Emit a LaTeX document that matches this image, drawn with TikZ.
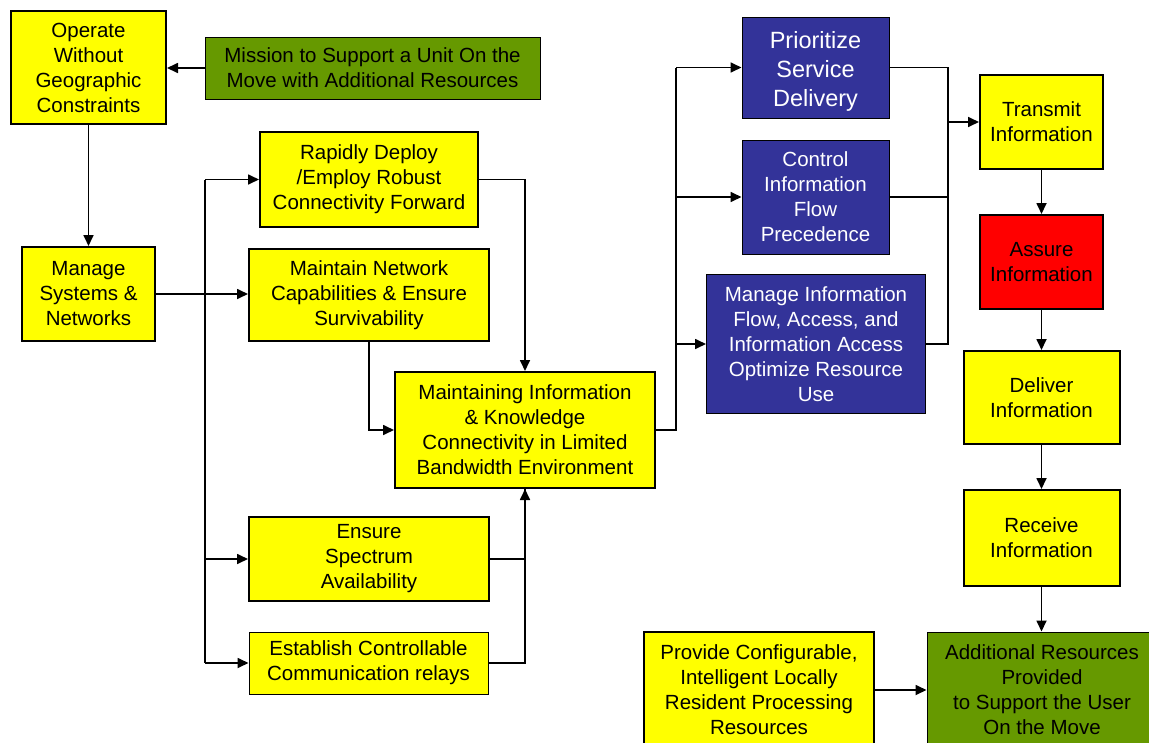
\documentclass[tikz,border=0pt]{standalone}
\usepackage{fontspec}
\setmainfont{Liberation Sans}
\usetikzlibrary{arrows.meta}
\definecolor{boxyellow}{HTML}{FFFF00}
\definecolor{boxgreen}{HTML}{669900}
\definecolor{boxblue}{HTML}{333399}
\definecolor{boxred}{HTML}{FF0000}
\tikzset{
  box/.style={rectangle, draw=black, inner sep=0pt, align=center,
    font=\fontsize{20.5}{25}\selectfont},
  thick box/.style={box, line width=2pt},
  thin box/.style={box, line width=1pt},
  yel/.style={fill=boxyellow, text=black},
  grn/.style={fill=boxgreen, text=black},
  blu/.style={fill=boxblue, text=white},
  rd/.style={fill=boxred, text=black},
  link/.style={line width=1.7pt, -{Triangle[length=11pt,width=10pt]}},
  plain/.style={line width=1.7pt},
}
\begin{document}
\begin{tikzpicture}[x=1pt,y=-1pt]
\useasboundingbox (0,0) rectangle (1149,742);
\fill[white] (0,0) rectangle (1149,742);
\clip (0,0) rectangle (1149,742);

% left column
\node[thick box, yel, minimum width=155pt, minimum height=113pt] (op) at (88.5,67.5)
  {Operate\\Without\\Geographic\\Constraints};
\node[thin box, grn, minimum width=335pt, minimum height=62pt] (mis) at (372.5,68)
  {Mission to Support a Unit On the\\Move with Additional Resources};
\node[thick box, yel, minimum width=133pt, minimum height=94pt] (mss) at (88.5,294)
  {Manage\\Systems \&\\Networks};

% middle column
\node[thick box, yel, minimum width=218pt, minimum height=95pt] (rap) at (369,179.5)
  {Rapidly Deploy\\/Employ Robust\\Connectivity Forward};
\node[thick box, yel, minimum width=240pt, minimum height=92pt] (mnc) at (369,295)
  {Maintain Network\\Capabilities \& Ensure\\Survivability};
\node[thick box, yel, minimum width=260pt, minimum height=116pt] (mik) at (525,430)
  {Maintaining Information\\\& Knowledge\\Connectivity in Limited\\Bandwidth Environment};
\node[thick box, yel, minimum width=240pt, minimum height=84pt] (esa) at (369,559)
  {Ensure\\Spectrum\\Availability};
\node[thin box, yel, minimum width=239pt, minimum height=62pt] (ecr) at (368.5,663)
  {Establish Controllable\\Communication relays};

% information management column
\node[thin box, blu, minimum width=147pt, minimum height=101pt,
  font=\fontsize{23.5}{29}\selectfont] (psd) at (815.5,67.5)
  {\raisebox{-4pt}[\height][\depth]{\begin{tabular}{@{}c@{}}Prioritize\\Service\\Delivery\end{tabular}}};
\node[thin box, blu, minimum width=147pt, minimum height=114pt] (cif) at (815.5,197)
  {Control\\Information\\Flow\\Precedence};
\node[thin box, blu, minimum width=219pt, minimum height=139pt] (mif) at (816,344)
  {Manage Information\\Flow, Access, and\\Information Access\\Optimize Resource\\Use};

% delivery chain
\node[thick box, yel, minimum width=123pt, minimum height=94pt] (tri) at (1041.5,122)
  {Transmit\\Information};
\node[thick box, rd, minimum width=123pt, minimum height=94pt] (asi) at (1041.5,262)
  {Assure\\Information};
\node[thick box, yel, minimum width=156pt, minimum height=93pt] (dli) at (1041.5,397.5)
  {Deliver\\Information};
\node[thick box, yel, minimum width=156pt, minimum height=96pt] (rci) at (1041.5,538)
  {Receive\\Information};
\node[thin box, grn, minimum width=230pt, minimum height=116pt] (arp) at (1042,690)
  {Additional Resources\\Provided\\ to Support the User\\On the Move};
\node[thick box, yel, minimum width=230pt, minimum height=116pt] (pcr) at (759,690)
  {Provide Configurable,\\Intelligent Locally\\Resident Processing\\Resources};

% left side links
\draw[link] (mis.west) -- (mis.west -| op.east);
\draw[link] (op.south) -- (op.south |- mss.north);
\draw[link] (mss.east) -- (mss.east -| mnc.west);

% left distribution bus
\coordinate (lbus) at (205,0);
\draw[plain] (lbus |- rap.west) -- (lbus |- ecr.west);
\draw[link] (lbus |- rap.west) -- (rap.west);
\draw[link] (lbus |- esa.west) -- (esa.west);
\draw[link] (lbus |- ecr.west) -- (ecr.west);

% feeds into the bandwidth box
\draw[link] (rap.east) -| (mik.north);
\draw[link] (mnc.south) |- (mik.west);
\draw[plain] (ecr.east) -| (mik.south);
\draw[link] (esa.east) -| (mik.south);

% middle distribution bus
\coordinate (mbus) at (676,0);
\draw[plain] (mik.east) -- (mik.east -| mbus) -- (mbus |- psd.west);
\draw[link] (mbus |- psd.west) -- (psd.west);
\draw[link] (mbus |- cif.west) -- (cif.west);
\draw[link] (mbus |- mif.west) -- (mif.west);

% right collection bus
\coordinate (rbus) at (948,0);
\draw[plain] (psd.east) -- (psd.east -| rbus) -- (rbus |- mif.east) -- (mif.east);
\draw[plain] (cif.east) -- (cif.east -| rbus);
\draw[link] (rbus |- tri.west) -- (tri.west);

% delivery chain links
\draw[link] (tri.south) -- (asi.north);
\draw[link] (asi.south) -- (dli.north);
\draw[link] (dli.south) -- (rci.north);
\draw[link] (rci.south) -- (rci.south |- arp.north);
\draw[link] (pcr.east) -- (arp.west);
\end{tikzpicture}
\end{document}
